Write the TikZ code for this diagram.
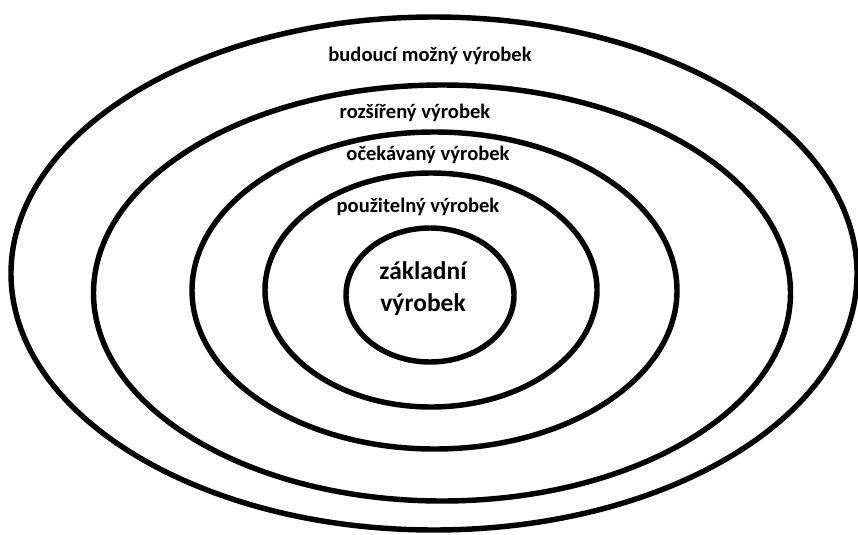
\documentclass[tikz,border=0pt]{standalone}
\usepackage{fontspec}
\setmainfont{Carlito}
\tikzset{
  ring/.style={line width=3.1pt},
  ringtext/.style={font=\bfseries\fontsize{11.7}{14}\selectfont, inner sep=0pt},
  coretext/.style={font=\bfseries\fontsize{14.5}{18.2}\selectfont, align=center, inner sep=0pt}
}
\begin{document}
\begin{tikzpicture}[x=0.02cm, y=-0.02cm]
   \useasboundingbox (0,0) rectangle (858,534);

   % rings, outer to inner
   \draw[ring] (434,273.5) ellipse (423 and 256.5);
   \draw[ring] (442,293) ellipse (348.5 and 208);
   \draw[ring] (434.5,290.5) ellipse (242.5 and 158.5);
   \draw[ring] (431,290) ellipse (166 and 117);
   \draw[ring] (430,295) ellipse (84 and 67);

   \node[ringtext] (future) at (430,56) {budoucí možný výrobek};
   \node[ringtext] (augmented) at (415,113) {rozšířený výrobek};
   \node[ringtext] (expected) at (428,155) {očekávaný výrobek};
   \node[ringtext] (usable) at (418,207) {použitelný výrobek};
   \node[coretext] (core) at (423,289) {základní\\výrobek};

 \end{tikzpicture}
\end{document}
